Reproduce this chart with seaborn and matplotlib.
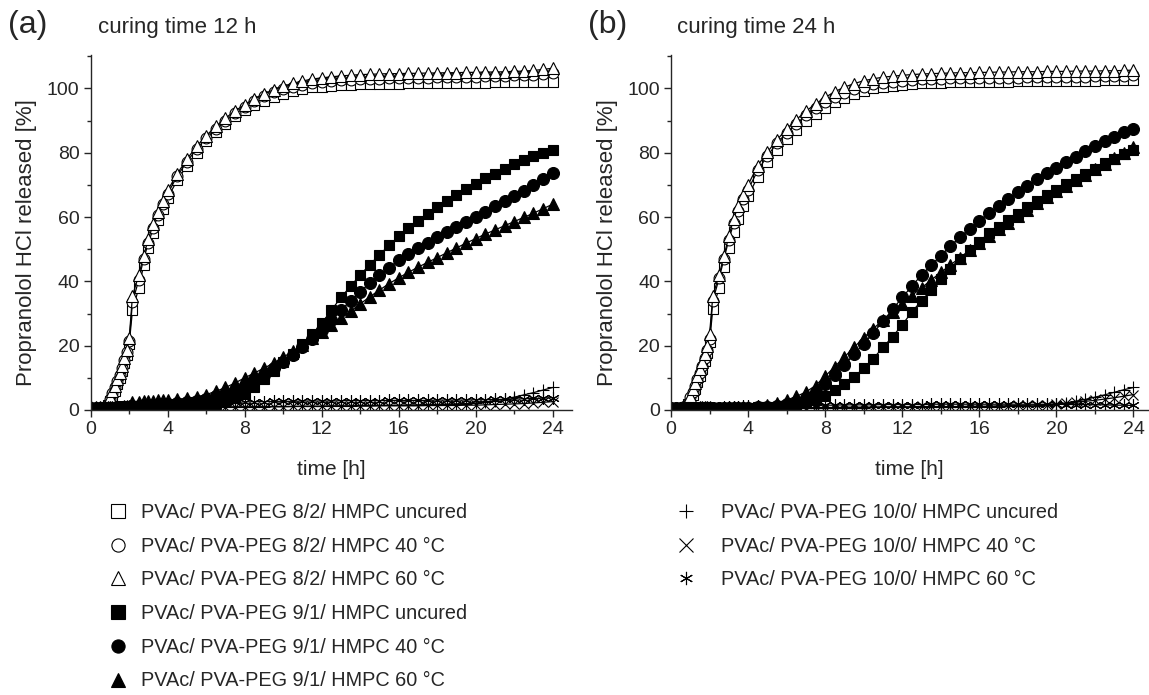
import matplotlib
matplotlib.use("Agg")
import matplotlib.pyplot as plt
from matplotlib.lines import Line2D
from matplotlib.ticker import MultipleLocator
import seaborn as sns
import pandas as pd

# ---------------- data ----------------
TIME = [0, 0.25, 0.5, 0.75, 0.875, 1.0, 1.125, 1.25, 1.375, 1.5, 1.625, 1.75, 1.875, 2.0,
        2.17, 2.5, 2.75, 3.0, 3.25, 3.5, 3.75, 4.0,
        4.5, 5.0, 5.5, 6.0, 6.5, 7.0, 7.5, 8.0, 8.5, 9.0,
        9.5, 10.0, 10.5, 11.0, 11.5, 12.0, 12.5, 13.0, 13.5, 14.0,
        14.5, 15.0, 15.5, 16.0, 16.5, 17.0, 17.5, 18.0, 18.5, 19.0,
        19.5, 20.0, 20.5, 21.0, 21.5, 22.0, 22.5, 23.0, 23.5, 24.0]

LABELS = ["PVAc/ PVA-PEG 8/2/ HMPC uncured", "PVAc/ PVA-PEG 8/2/ HMPC 40 °C",
          "PVAc/ PVA-PEG 8/2/ HMPC 60 °C", "PVAc/ PVA-PEG 9/1/ HMPC uncured",
          "PVAc/ PVA-PEG 9/1/ HMPC 40 °C", "PVAc/ PVA-PEG 9/1/ HMPC 60 °C",
          "PVAc/ PVA-PEG 10/0/ HMPC uncured", "PVAc/ PVA-PEG 10/0/ HMPC 40 °C",
          "PVAc/ PVA-PEG 10/0/ HMPC 60 °C"]

PANEL_TITLES = ["curing time 12 h", "curing time 24 h"]
PANEL_TAGS = ["(a)", "(b)"]
X_TICKS = [0, 4, 8, 12, 16, 20, 24]
Y_TICKS = [0, 20, 40, 60, 80, 100]

# ----- panel (a): curing time 12 h -----
A_S82 = [0.3, 0.4, 0.5, 0.8, 1.5, 2.8, 4.3, 6.0, 8.0, 10.0, 12.2, 14.5, 17.0, 20.5,
         31.0, 38.0, 45.0, 50.5, 55.0, 59.0, 62.5, 66.0,
         71.5, 76.0, 80.0, 83.5, 86.5, 89.0, 91.3, 93.2, 94.8, 96.2,
         97.4, 98.4, 99.2, 99.8, 100.3, 100.6, 100.9, 101.1, 101.2, 101.3,
         101.4, 101.4, 101.5, 101.5, 101.6, 101.6, 101.6, 101.7, 101.7, 101.7,
         101.8, 101.8, 101.8, 101.9, 101.9, 101.9, 102.0, 102.0, 102.1, 102.1]
A_C82 = [0.3, 0.4, 0.5, 1.0, 2.0, 3.5, 5.2, 7.0, 9.0, 11.0, 13.2, 15.5, 18.0, 21.5,
         33.5, 40.5, 47.0, 52.0, 56.5, 60.5, 64.0, 67.3,
         72.8, 77.2, 81.2, 84.5, 87.5, 90.0, 92.3, 94.3, 96.0, 97.5,
         98.8, 99.8, 100.6, 101.2, 101.7, 102.0, 102.3, 102.5, 102.7, 102.8,
         102.9, 103.0, 103.1, 103.2, 103.2, 103.3, 103.4, 103.5, 103.5, 103.6,
         103.7, 103.7, 103.8, 103.9, 104.0, 104.1, 104.2, 104.3, 104.5, 104.8]
A_T82 = [0.3, 0.4, 0.6, 1.3, 2.5, 4.0, 5.8, 7.6, 9.6, 11.6, 13.8, 16.2, 18.8, 22.3,
         35.5, 42.0, 48.0, 53.3, 57.8, 61.5, 65.0, 68.3,
         73.5, 78.0, 82.0, 85.3, 88.2, 90.8, 93.0, 95.0, 96.8, 98.3,
         99.6, 100.7, 101.6, 102.3, 102.9, 103.3, 103.6, 103.9, 104.1, 104.3,
         104.4, 104.5, 104.6, 104.6, 104.7, 104.7, 104.8, 104.8, 104.9, 104.9,
         105.0, 105.0, 105.1, 105.1, 105.2, 105.3, 105.4, 105.6, 105.9, 106.3]
A_S91 = [0.5, 0.6, 0.6, 0.6, 0.6, 0.6, 0.7, 0.7, 0.7, 0.7, 0.7, 0.7, 0.8, 0.8,
         0.9, 0.9, 1.0, 1.0, 1.0, 1.0, 1.1, 1.1,
         1.2, 1.3, 1.4, 1.6, 2.0, 2.7, 3.7, 5.0, 7.2, 9.6,
         12.2, 14.8, 17.5, 20.4, 23.5, 27.0, 31.0, 35.0, 38.5, 42.0,
         45.2, 48.3, 51.2, 54.0, 56.5, 58.8, 61.0, 63.0, 65.0, 66.9,
         68.7, 70.4, 72.0, 73.5, 75.0, 76.4, 77.8, 79.0, 80.0, 80.9]
A_C91 = [0.5, 0.6, 0.6, 0.7, 0.7, 0.7, 0.7, 0.7, 0.8, 0.8, 0.8, 0.8, 0.8, 0.9,
         1.2, 1.3, 1.4, 1.5, 1.6, 1.7, 1.8, 1.9,
         2.1, 2.4, 2.8, 3.4, 4.2, 5.1, 6.2, 7.5, 9.2, 11.0,
         13.0, 15.0, 17.2, 19.5, 22.0, 25.0, 28.0, 31.0, 34.0, 36.8,
         39.5, 42.0, 44.3, 46.5, 48.5, 50.3, 52.0, 53.7, 55.3, 56.9,
         58.5, 60.1, 61.7, 63.3, 64.9, 66.5, 68.2, 70.0, 71.8, 73.7]
A_T91 = [0.8, 0.9, 0.9, 0.9, 1.0, 1.0, 1.0, 1.0, 1.0, 1.0, 1.0, 1.1, 1.1, 1.1,
         2.4, 2.6, 2.7, 2.8, 2.9, 3.0, 3.0, 3.1,
         3.3, 3.6, 4.1, 4.8, 5.8, 7.0, 8.4, 10.0, 11.5, 13.0,
         14.6, 16.4, 18.3, 20.3, 22.3, 24.4, 26.4, 28.5, 30.7, 33.0,
         35.2, 37.3, 39.3, 41.1, 42.8, 44.4, 45.9, 47.4, 48.9, 50.4,
         51.9, 53.3, 54.7, 56.0, 57.3, 58.6, 59.9, 61.2, 62.6, 64.0]
A_P100 = [0.3, 0.3, 0.4, 0.4, 0.4, 0.4, 0.5, 0.5, 0.5, 0.5, 0.5, 0.5, 0.5, 0.5,
          0.6, 0.6, 0.6, 0.7, 0.7, 0.7, 0.7, 0.7,
          0.8, 0.8, 0.8, 0.9, 0.9, 0.9, 1.0, 1.0, 1.0, 1.0,
          1.1, 1.1, 1.1, 1.2, 1.2, 1.2, 1.3, 1.3, 1.3, 1.4,
          1.4, 1.4, 1.5, 1.5, 1.6, 1.6, 1.7, 1.7, 1.8, 1.9,
          2.0, 2.2, 2.5, 2.9, 3.4, 4.0, 4.7, 5.4, 6.2, 7.0]
A_X100 = [0.2, 0.2, 0.3, 0.3, 0.3, 0.3, 0.3, 0.3, 0.4, 0.4, 0.4, 0.4, 0.4, 0.4,
          0.5, 0.5, 0.5, 0.6, 0.6, 0.6, 0.6, 0.7,
          0.7, 0.7, 0.8, 0.8, 0.8, 0.9, 0.9, 0.9, 1.0, 1.0,
          1.0, 1.0, 1.1, 1.1, 1.1, 1.1, 1.2, 1.2, 1.2, 1.2,
          1.2, 1.3, 1.3, 1.3, 1.3, 1.3, 1.4, 1.4, 1.4, 1.4,
          1.5, 1.5, 1.6, 1.7, 1.8, 1.9, 2.0, 2.2, 2.4, 2.6]
A_A100 = [0.4, 0.4, 0.5, 0.5, 0.5, 0.5, 0.6, 0.6, 0.6, 0.6, 0.6, 0.6, 0.7, 0.7,
          1.0, 1.1, 1.2, 1.3, 1.4, 1.5, 1.6, 1.7,
          1.8, 1.9, 2.0, 2.1, 2.2, 2.3, 2.4, 2.5, 2.6, 2.6,
          2.7, 2.7, 2.7, 2.8, 2.8, 2.8, 2.8, 2.9, 2.9, 2.9,
          2.9, 2.9, 3.0, 3.0, 3.0, 3.0, 3.0, 3.1, 3.1, 3.1,
          3.1, 3.2, 3.2, 3.3, 3.3, 3.4, 3.5, 3.6, 3.7, 3.8]

# ----- panel (b): curing time 24 h -----
B_S82 = [0.3, 0.4, 0.5, 0.9, 1.8, 3.2, 4.8, 6.6, 8.6, 10.6, 12.8, 15.2, 17.8, 21.0,
         31.5, 38.0, 44.5, 50.5, 55.5, 59.5, 63.5, 66.5,
         72.5, 77.0, 81.0, 84.3, 87.2, 89.8, 92.0, 94.0, 95.7, 97.1,
         98.3, 99.3, 100.0, 100.5, 100.9, 101.2, 101.4, 101.6, 101.7, 101.8,
         101.9, 101.9, 102.0, 102.0, 102.1, 102.1, 102.1, 102.2, 102.2, 102.2,
         102.3, 102.3, 102.3, 102.4, 102.4, 102.4, 102.5, 102.5, 102.5, 102.6]
B_C82 = [0.3, 0.4, 0.6, 1.1, 2.3, 3.9, 5.7, 7.6, 9.6, 11.6, 13.8, 16.2, 18.8, 22.2,
         34.0, 41.0, 47.0, 53.0, 58.0, 62.0, 65.5, 68.5,
         74.5, 79.0, 83.0, 86.2, 89.0, 91.6, 93.8, 95.7, 97.3, 98.6,
         99.7, 100.6, 101.3, 101.8, 102.1, 102.4, 102.6, 102.8, 102.9, 103.0,
         103.1, 103.1, 103.2, 103.2, 103.3, 103.3, 103.4, 103.4, 103.5, 103.5,
         103.5, 103.6, 103.6, 103.7, 103.7, 103.8, 103.8, 103.9, 104.0, 104.1]
B_T82 = [0.3, 0.4, 0.6, 1.4, 2.8, 4.5, 6.4, 8.4, 10.5, 12.6, 14.9, 17.4, 20.0, 23.5,
         35.5, 42.0, 48.0, 54.0, 59.5, 63.5, 67.0, 70.0,
         76.0, 80.2, 84.0, 87.4, 90.3, 92.9, 95.2, 97.2, 99.0, 100.4,
         101.5, 102.4, 103.0, 103.5, 103.8, 104.1, 104.3, 104.5, 104.6, 104.7,
         104.8, 104.9, 104.9, 105.0, 105.0, 105.1, 105.1, 105.2, 105.2, 105.2,
         105.3, 105.3, 105.3, 105.4, 105.4, 105.4, 105.5, 105.5, 105.6, 105.7]
B_S91 = [0.5, 0.6, 0.6, 0.6, 0.6, 0.6, 0.6, 0.7, 0.7, 0.7, 0.7, 0.7, 0.7, 0.7,
         0.6, 0.6, 0.6, 0.6, 0.6, 0.7, 0.7, 0.7,
         0.8, 0.9, 1.0, 1.2, 1.6, 2.2, 3.0, 4.5, 6.2, 8.2,
         10.3, 13.0, 16.0, 19.5, 22.8, 26.5, 30.5, 34.0, 37.3, 40.8,
         44.0, 47.0, 49.8, 52.4, 55.0, 57.0, 59.0, 61.0, 63.0, 65.0,
         66.8, 68.5, 70.2, 71.9, 73.5, 75.1, 76.7, 78.2, 79.6, 81.0]
B_C91 = [0.5, 0.5, 0.6, 0.6, 0.6, 0.6, 0.6, 0.6, 0.6, 0.7, 0.7, 0.7, 0.7, 0.7,
         0.5, 0.5, 0.6, 0.6, 0.6, 0.7, 0.7, 0.7,
         0.8, 1.0, 1.3, 1.8, 2.6, 3.7, 5.5, 8.0, 11.0, 14.0,
         17.3, 20.6, 24.0, 27.6, 31.3, 35.0, 38.5, 42.0, 45.0, 48.0,
         51.0, 53.7, 56.3, 58.8, 61.2, 63.5, 65.7, 67.8, 69.8, 71.7,
         73.6, 75.4, 77.1, 78.8, 80.4, 82.0, 83.5, 85.0, 86.3, 87.5]
B_T91 = [0.6, 0.6, 0.7, 0.7, 0.7, 0.7, 0.7, 0.7, 0.7, 0.8, 0.8, 0.8, 0.8, 0.8,
         0.6, 0.7, 0.7, 0.8, 0.8, 0.9, 0.9, 1.0,
         1.3, 1.7, 2.3, 3.1, 4.2, 5.6, 7.6, 10.5, 13.5, 16.5,
         19.5, 22.5, 25.3, 28.0, 30.6, 33.1, 35.6, 38.0, 40.4, 42.8,
         45.1, 47.4, 49.7, 51.9, 54.1, 56.2, 58.3, 60.3, 62.3, 64.3,
         66.2, 68.0, 69.8, 71.5, 73.2, 74.9, 76.6, 78.3, 80.0, 81.8]
B_P100 = [0.3, 0.3, 0.4, 0.4, 0.4, 0.4, 0.4, 0.4, 0.5, 0.5, 0.5, 0.5, 0.5, 0.5,
          0.5, 0.5, 0.5, 0.5, 0.5, 0.5, 0.6, 0.6,
          0.6, 0.6, 0.6, 0.6, 0.6, 0.7, 0.7, 0.7, 0.7, 0.7,
          0.7, 0.7, 0.8, 0.8, 0.8, 0.8, 0.8, 0.8, 0.9, 0.9,
          0.9, 0.9, 0.9, 1.0, 1.0, 1.0, 1.1, 1.1, 1.2, 1.3,
          1.5, 1.8, 2.2, 2.7, 3.3, 4.0, 4.7, 5.5, 6.3, 7.0]
B_X100 = [0.2, 0.2, 0.3, 0.3, 0.3, 0.3, 0.3, 0.3, 0.3, 0.3, 0.4, 0.4, 0.4, 0.4,
          0.4, 0.4, 0.4, 0.5, 0.5, 0.5, 0.5, 0.5,
          0.6, 0.6, 0.6, 0.7, 0.7, 0.7, 0.8, 0.8, 0.8, 0.9,
          0.9, 0.9, 0.9, 1.0, 1.0, 1.0, 1.0, 1.1, 1.1, 1.1,
          1.1, 1.1, 1.2, 1.2, 1.2, 1.3, 1.3, 1.4, 1.5, 1.6,
          1.7, 1.9, 2.1, 2.4, 2.7, 3.0, 3.4, 3.8, 4.3, 4.8]
B_A100 = [0.3, 0.3, 0.3, 0.4, 0.4, 0.4, 0.4, 0.4, 0.4, 0.4, 0.4, 0.5, 0.5, 0.5,
          0.6, 0.7, 0.8, 0.9, 1.0, 1.0, 1.1, 1.1,
          1.2, 1.2, 1.3, 1.3, 1.4, 1.4, 1.5, 1.5, 1.5, 1.6,
          1.6, 1.6, 1.6, 1.7, 1.7, 1.7, 1.7, 1.7, 1.8, 1.8,
          1.8, 1.8, 1.8, 1.8, 1.8, 1.8, 1.8, 1.8, 1.8, 1.8,
          1.8, 1.8, 1.7, 1.7, 1.7, 1.6, 1.6, 1.5, 1.5, 1.4]

PANEL_A = [A_S82, A_C82, A_T82, A_S91, A_C91, A_T91, A_P100, A_X100, A_A100]
PANEL_B = [B_S82, B_C82, B_T82, B_S91, B_C91, B_T91, B_P100, B_X100, B_A100]

# ---------------- styles ----------------
ASTER = (6, 2, 0)
MARKERS = ["s", "o", "^", "s", "o", "^", "+", "x", ASTER]
FACES = ["white", "white", "white", "black", "black", "black", "black", "black", "black"]
SIZES = [7.4, 7.8, 8.2, 7.6, 8.6, 8.8, 9.0, 7.2, 9.0]

sns.set_style("ticks")
plt.rcParams["font.family"] = ["Liberation Sans", "DejaVu Sans"]
plt.rcParams["axes.linewidth"] = 1.0

W, H = 1149, 695
fig = plt.figure(figsize=(W / 100, H / 100), dpi=100)

XMAX_A = 25.0
PX_PER_H = 19.25
Y0_PX, YTOP_PX = 410, 55
YMAX = 110.4
ax_a = fig.add_axes([90.7 / W, (H - Y0_PX) / H, XMAX_A * PX_PER_H / W, (Y0_PX - YTOP_PX) / H])
XMAX_B = (1148 - 671) / 19.27
ax_b = fig.add_axes([671 / W, (H - Y0_PX) / H, (1148 - 671) / W, (Y0_PX - YTOP_PX) / H])

for ax, panel, xmax in [(ax_a, PANEL_A, XMAX_A), (ax_b, PANEL_B, XMAX_B)]:
    for vals, mk, fc, ms in zip(panel, MARKERS, FACES, SIZES):
        df = pd.DataFrame({"t": TIME, "v": vals})
        sns.lineplot(data=df, x="t", y="v", ax=ax, color="black", lw=0.9,
                     marker=mk, markersize=ms, markerfacecolor=fc,
                     markeredgecolor="black", markeredgewidth=0.8,
                     estimator=None, sort=False, legend=False)
    ax.set_xlim(0, xmax)
    ax.set_ylim(0, YMAX)
    ax.set_xticks(X_TICKS)
    ax.set_yticks(Y_TICKS)
    ax.xaxis.set_minor_locator(MultipleLocator(2))
    ax.yaxis.set_minor_locator(MultipleLocator(10))
    ax.tick_params(which="major", direction="out", length=5, width=1.0, labelsize=14, pad=3)
    ax.tick_params(which="minor", direction="out", length=3, width=1.0)
    for s in ["top", "right"]:
        ax.spines[s].set_visible(False)
    ax.set_xlabel("time [h]", fontsize=15, labelpad=16)
    ax.set_ylabel("Propranolol HCl released [%]", fontsize=16)
    ax.yaxis.set_label_coords(-0.112, 0.472)

# panel tags and titles
fig.text(8 / W, 1 - 25 / H, PANEL_TAGS[0], fontsize=23, va="center", ha="left")
fig.text(98 / W, 1 - 28 / H, PANEL_TITLES[0], fontsize=16, va="center", ha="left")
fig.text(588 / W, 1 - 25 / H, PANEL_TAGS[1], fontsize=23, va="center", ha="left")
fig.text(677 / W, 1 - 28 / H, PANEL_TITLES[1], fontsize=16, va="center", ha="left")

# legends
handles = [Line2D([], [], ls="none", marker=mk, markersize=9.5, markerfacecolor=fc,
                  markeredgecolor="black", markeredgewidth=0.8)
           for mk, fc in zip(MARKERS, ["white"] * 3 + ["black"] * 6)]
FS = 14.3
fig.legend(handles[:6], LABELS[:6], loc="upper left", bbox_to_anchor=(108 / W, 1 - 503 / H),
           frameon=False, fontsize=FS, handlelength=1.0, handletextpad=0.66,
           labelspacing=0.74, borderpad=0, borderaxespad=0)
fig.legend(handles[6:], LABELS[6:], loc="upper left", bbox_to_anchor=(676 / W, 1 - 503 / H),
           frameon=False, fontsize=FS, handlelength=1.0, handletextpad=1.27,
           labelspacing=0.74, borderpad=0, borderaxespad=0)

fig.savefig("out.png", dpi=100)
